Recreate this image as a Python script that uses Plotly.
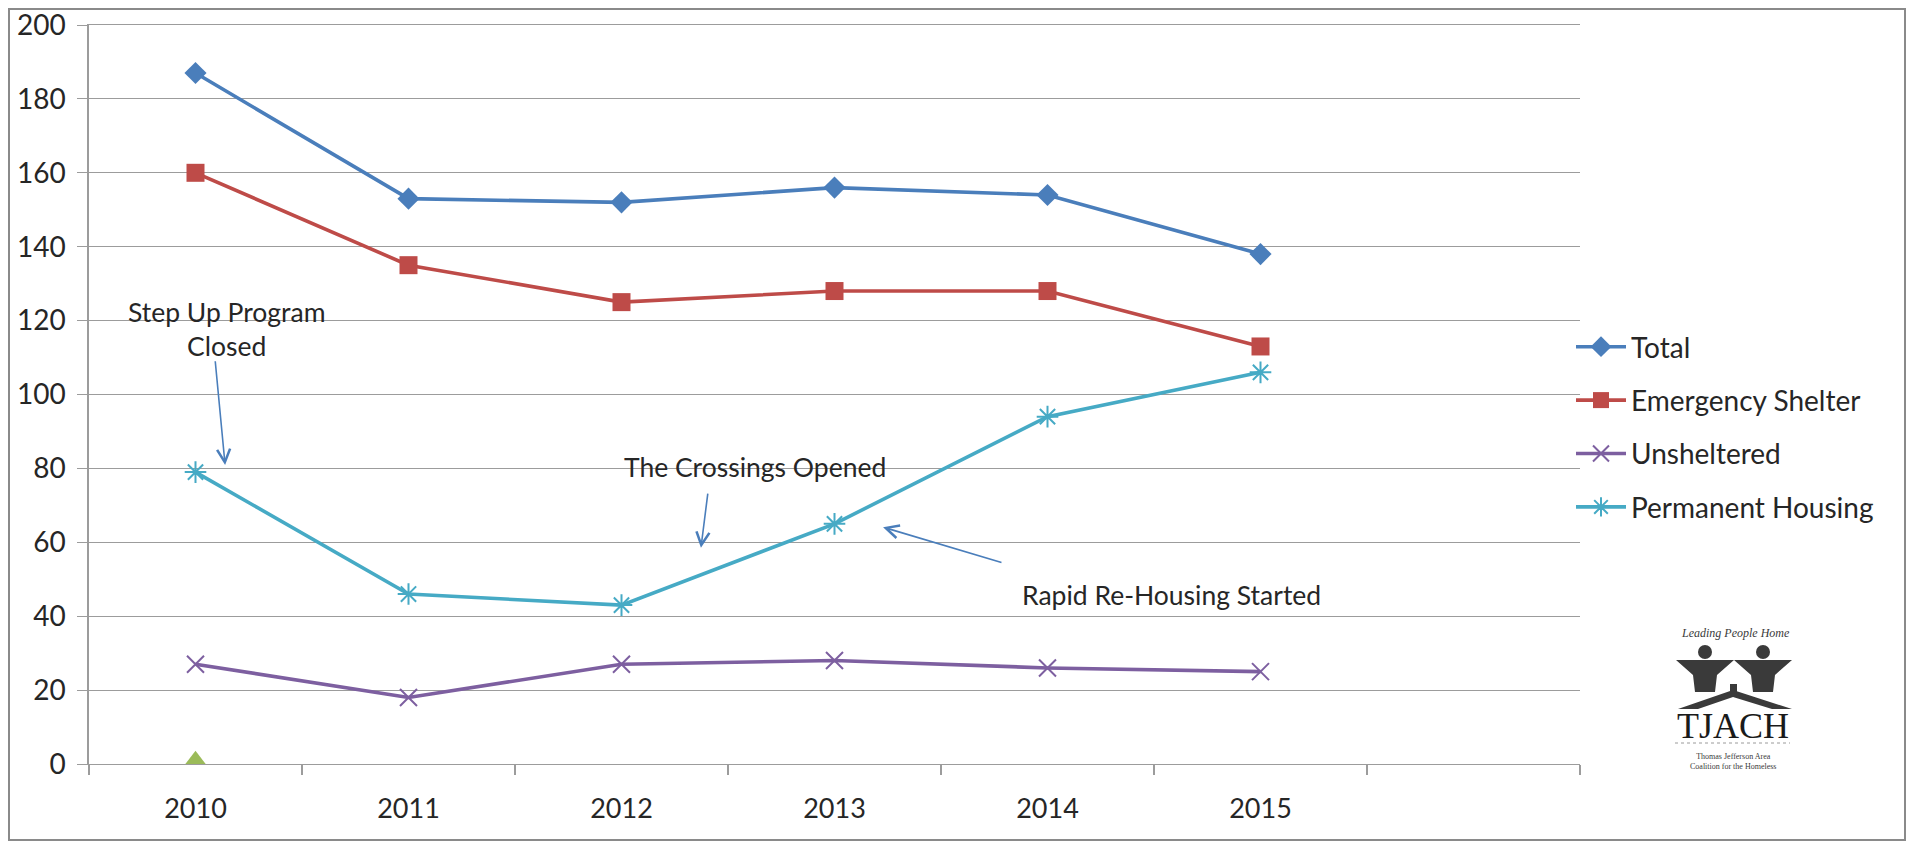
import plotly.graph_objects as go

# ---------------- data ----------------
years = ["2010", "2011", "2012", "2013", "2014", "2015"]
total = [187, 153, 152, 156, 154, 138]
emergency = [160, 135, 125, 128, 128, 113]
unsheltered = [27, 18, 27, 28, 26, 25]
permanent = [79, 46, 43, 65, 94, 106]
other_years = ["2010"]
other = [1]

# ---------------- layout constants ----------------
OFF = 8                      # page body margin
W, H = 1899, 834
PLOT_L, PLOT_R, PLOT_T, PLOT_B = 89, 1580, 25, 764   # in screenshot pixels
ML = PLOT_L - OFF
MT = PLOT_T - OFF
MR = W - (PLOT_R - OFF)
MB = H - (PLOT_B - OFF)
PW, PH = W - ML - MR, H - MT - MB
FONT = "Lato"
TXT = "#262626"
GRID = "#9c9c9c"

xi = list(range(len(years)))
oi = [years.index(y) for y in other_years]


def P(px, py):
    """screenshot pixel -> paper coordinates (decoration only)"""
    return (px - OFF - ML) / PW, (H - MB - (py - OFF)) / PH


fig = go.Figure()

series = [
    ("Total", total, "#4A7EBB", dict(symbol="diamond", size=17)),
    ("Emergency Shelter", emergency, "#BE4B48", dict(symbol="square", size=18)),
    ("Unsheltered", unsheltered, "#7D5FA0", dict(symbol="x-thin-open", size=17, line=dict(width=2))),
    ("Permanent Housing", permanent, "#46AAC5", dict(symbol="asterisk-open", size=18, line=dict(width=2))),
]
for i, (name, vals, col, mk) in enumerate(series):
    mk = dict(mk)
    mk["color"] = col
    if "line" in mk:
        mk["line"]["color"] = col
    fig.add_trace(go.Scatter(
        x=xi, y=vals, name=name, mode="lines+markers",
        line=dict(color=col, width=3.6), marker=mk,
        legendgroup=f"g{i}",
    ))

fig.add_trace(go.Scatter(
    x=oi, y=other, name="Other", mode="markers",
    marker=dict(symbol="triangle-up", size=19, color="#9BBB59"),
    showlegend=False, cliponaxis=False,
))

# ---------------- annotations ----------------
ann = []
texts = [
    ("Step Up Program<br>Closed", 0.147, 117.7),
    ("The Crossings Opened", 2.627, 80.4),
    ("Rapid Re-Housing Started", 4.580, 45.7),
]
for t, x, y in texts:
    ann.append(dict(text=t, x=x, y=y, xref="x", yref="y", showarrow=False,
                    xanchor="center", yanchor="middle",
                    font=dict(family=FONT, size=26.5, color=TXT), align="center"))

arrows = [  # (head x, head y, tail x, tail y)
    (0.139, 80.9, 0.092, 109.4),
    (2.373, 58.5, 2.406, 73.6),
    (3.228, 64.1, 3.791, 54.4),
]
for hx, hy, tx, ty in arrows:
    ann.append(dict(text="", x=hx, y=hy, ax=tx, ay=ty, xref="x", yref="y",
                    axref="x", ayref="y", showarrow=True, arrowhead=5,
                    arrowsize=1.6, arrowwidth=1.6, arrowcolor="#4A7EBB"))

# ---------------- logo (decoration) ----------------
LOGO = "#3a3a3a"
x, y = P(1735, 633)
ann.append(dict(text="<i>Leading People Home</i>", x=x, y=y, xref="paper", yref="paper",
                xanchor="center", yanchor="middle", showarrow=False,
                font=dict(family="Liberation Serif", size=12, color=LOGO)))
x, y = P(1733, 726)
ann.append(dict(text="TJACH", x=x, y=y, xref="paper", yref="paper", showarrow=False,
                xanchor="center", yanchor="middle",
                font=dict(family="Liberation Serif", size=36, color="#1a1a1a")))
x, y = P(1733, 761)
ann.append(dict(text="Thomas Jefferson Area<br>Coalition for the Homeless", x=x, y=y,
                xref="paper", yref="paper", showarrow=False,
                xanchor="center", yanchor="middle",
                font=dict(family="Liberation Serif", size=8, color=LOGO)))

shapes = []


def poly(pts, color=LOGO):
    p = [P(a, b) for a, b in pts]
    path = "M " + " L ".join(f"{u:.5f},{v:.5f}" for u, v in p) + " Z"
    shapes.append(dict(type="path", path=path, xref="paper", yref="paper",
                       fillcolor=color, line=dict(width=0)))


def circ(cx, cy, r, color=LOGO):
    x0, y0 = P(cx - r, cy + r)
    x1, y1 = P(cx + r, cy - r)
    shapes.append(dict(type="circle", x0=x0, y0=y0, x1=x1, y1=y1, xref="paper",
                       yref="paper", fillcolor=color, line=dict(width=0)))


for cx in (1705, 1763):
    circ(cx, 652, 7)
    poly([(cx - 29, 660), (cx + 29, 660), (cx + 12, 675), (cx + 10, 692),
          (cx - 10, 692), (cx - 12, 675)])
poly([(1730, 684), (1737, 684), (1737, 692), (1730, 692)])
poly([(1678, 709), (1733, 690), (1792, 709), (1772, 709), (1733, 697), (1698, 709)])
x0, y0 = P(1675, 743)
x1, _ = P(1790, 743)
shapes.append(dict(type="line", x0=x0, x1=x1, y0=y0, y1=y0, xref="paper", yref="paper",
                   line=dict(color="#9a9a9a", width=1, dash="dot")))

# outer border
x0, y0 = P(9, 840)
x1, y1 = P(1905, 9)
shapes.append(dict(type="rect", x0=x0, y0=y0, x1=x1, y1=y1, xref="paper", yref="paper",
                   line=dict(color="#8a8a8a", width=2), fillcolor="rgba(0,0,0,0)", layer="below"))

lx, ly = P(1571, 322)

fig.update_layout(
    width=W, height=H,
    margin=dict(l=ML, r=MR, t=MT, b=MB, autoexpand=False),
    paper_bgcolor="white", plot_bgcolor="white",
    font=dict(family=FONT, size=27, color=TXT),
    showlegend=True,
    legend=dict(x=lx, y=ly, xanchor="left", yanchor="top",
                font=dict(family=FONT, size=28, color=TXT),
                itemwidth=50, tracegroupgap=14, traceorder="grouped",
                bgcolor="rgba(0,0,0,0)"),
    annotations=ann,
    shapes=shapes,
    xaxis=dict(
        range=[-0.5, len(years) + 0.5],
        tickmode="array", tickvals=xi, ticktext=years,
        ticks="", showgrid=False, zeroline=False,
        showline=True, mirror=True, linecolor=GRID, linewidth=1.4,
        tickfont=dict(family=FONT, size=27, color=TXT),
        ticklabelstandoff=20, ticklabeloverflow="allow",
        minor=dict(tick0=-0.5, dtick=1, ticks="outside", ticklen=10,
                   tickcolor=GRID, tickwidth=1.5, showgrid=False),
    ),
    yaxis=dict(
        range=[0, 200], dtick=20, tick0=0,
        showgrid=True, gridcolor=GRID, gridwidth=1.3,
        zeroline=False, showline=True, linecolor=GRID, linewidth=1.5,
        ticks="outside", ticklen=10, tickcolor=GRID, tickwidth=1.3,
        ticklabelstandoff=6, ticklabeloverflow="allow",
        tickfont=dict(family=FONT, size=28, color=TXT),
    ),
)

fig.write_html("out.html")
